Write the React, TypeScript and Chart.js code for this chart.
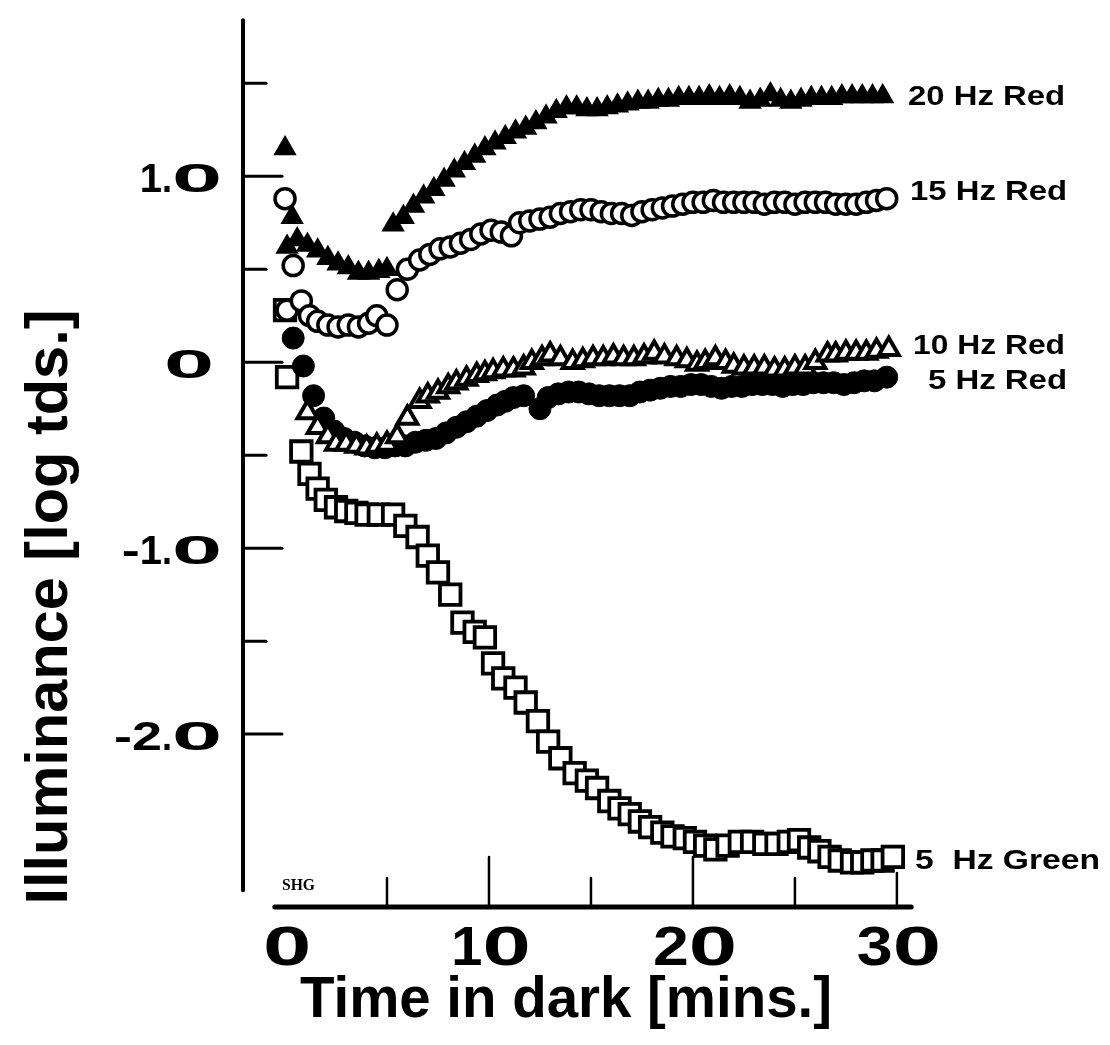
import React, { useEffect, useRef } from "react";
import { Chart, registerables } from "chart.js";

Chart.register(...registerables);

// ---------- data (time in dark [min], illuminance [log tds]) ----------
const hz20RedTime = [0.0, 0.35, 0.1, 0.6, 1.1, 1.6, 2.1, 2.6, 3.1, 3.6, 4.1, 4.6, 5.0, 5.3, 5.8, 6.3, 6.8, 7.3, 7.8, 8.3, 8.8, 9.3, 9.8, 10.3, 10.8, 11.3, 11.8, 12.3, 12.8, 13.3, 13.8, 14.3, 14.8, 15.3, 15.8, 16.3, 16.8, 17.3, 17.8, 18.3, 18.8, 19.3, 19.8, 20.3, 20.8, 21.3, 21.8, 22.3, 22.8, 23.3, 23.8, 24.3, 24.8, 25.3, 25.8, 26.3, 26.8, 27.3, 27.8, 28.3, 28.8, 29.3];
const hz20RedValue = [1.15, 0.78, 0.62, 0.66, 0.63, 0.6, 0.56, 0.53, 0.51, 0.48, 0.48, 0.49, 0.5, 0.74, 0.78, 0.84, 0.89, 0.93, 0.98, 1.03, 1.07, 1.11, 1.15, 1.18, 1.21, 1.24, 1.26, 1.29, 1.32, 1.35, 1.37, 1.37, 1.36, 1.36, 1.37, 1.38, 1.39, 1.4, 1.4, 1.41, 1.41, 1.42, 1.42, 1.42, 1.43, 1.42, 1.43, 1.42, 1.4, 1.41, 1.44, 1.41, 1.4, 1.41, 1.42, 1.42, 1.42, 1.43, 1.43, 1.43, 1.43, 1.43];

const hz15RedTime = [0.0, 0.4, 0.1, 0.8, 1.2, 1.6, 2.1, 2.6, 3.1, 3.6, 4.1, 4.5, 5.0, 5.5, 6.0, 6.6, 7.1, 7.6, 8.1, 8.6, 9.1, 9.6, 10.1, 10.6, 11.1, 11.5, 12.0, 12.5, 13.0, 13.5, 14.0, 14.5, 15.0, 15.5, 16.0, 16.5, 17.0, 17.5, 18.0, 18.5, 19.0, 19.5, 20.0, 20.5, 21.0, 21.5, 22.0, 22.5, 23.0, 23.5, 24.0, 24.5, 25.0, 25.5, 26.0, 26.5, 27.0, 27.5, 28.0, 28.5, 29.0, 29.5];
const hz15RedValue = [0.88, 0.52, 0.28, 0.33, 0.25, 0.22, 0.2, 0.19, 0.2, 0.19, 0.21, 0.25, 0.2, 0.39, 0.5, 0.55, 0.58, 0.61, 0.62, 0.64, 0.66, 0.69, 0.71, 0.7, 0.68, 0.75, 0.76, 0.77, 0.78, 0.8, 0.81, 0.82, 0.82, 0.81, 0.8, 0.8, 0.79, 0.81, 0.82, 0.83, 0.84, 0.85, 0.86, 0.86, 0.87, 0.86, 0.86, 0.86, 0.86, 0.85, 0.86, 0.86, 0.85, 0.86, 0.86, 0.86, 0.85, 0.85, 0.85, 0.86, 0.87, 0.88];

const hz10RedTime = [1.1, 1.6, 2.1, 2.5, 3.0, 3.5, 4.0, 4.5, 5.0, 5.5, 6.0, 6.6, 7.0, 7.5, 8.0, 8.4, 8.9, 9.4, 9.8, 10.2, 10.7, 11.2, 11.7, 12.1, 12.6, 13.0, 13.5, 14.1, 14.6, 15.1, 15.6, 16.1, 16.6, 17.1, 17.6, 18.1, 18.6, 19.2, 19.7, 20.2, 20.6, 21.1, 21.6, 22.0, 22.5, 23.0, 23.5, 24.0, 24.5, 25.0, 25.5, 26.0, 26.6, 27.0, 27.5, 28.0, 28.5, 29.0, 29.6];
const hz10RedValue = [-0.27, -0.35, -0.4, -0.44, -0.44, -0.45, -0.46, -0.45, -0.44, -0.4, -0.3, -0.21, -0.18, -0.16, -0.13, -0.11, -0.09, -0.07, -0.06, -0.05, -0.04, -0.04, -0.03, 0.0, 0.02, 0.04, 0.02, 0.0, 0.01, 0.02, 0.02, 0.03, 0.02, 0.02, 0.03, 0.05, 0.03, 0.02, 0.01, -0.01, 0.0, 0.02, 0.0, -0.02, -0.03, -0.03, -0.03, -0.04, -0.04, -0.03, -0.03, 0.0, 0.04, 0.04, 0.05, 0.05, 0.05, 0.06, 0.07];

const hz5RedTime = [0.4, 0.9, 1.4, 1.9, 2.4, 2.9, 3.4, 3.9, 4.4, 4.9, 5.4, 5.9, 6.4, 6.9, 7.4, 7.9, 8.4, 8.9, 9.4, 9.9, 10.4, 10.8, 11.2, 11.7, 12.5, 12.9, 13.4, 13.9, 14.4, 14.9, 15.4, 15.9, 16.4, 16.9, 17.4, 17.9, 18.4, 18.9, 19.4, 19.9, 20.4, 20.9, 21.4, 21.9, 22.4, 22.9, 23.4, 23.9, 24.4, 24.9, 25.4, 25.9, 26.4, 26.9, 27.4, 27.9, 28.4, 28.9, 29.5];
const hz5RedValue = [0.13, -0.02, -0.18, -0.3, -0.37, -0.41, -0.43, -0.45, -0.46, -0.46, -0.45, -0.45, -0.43, -0.42, -0.41, -0.38, -0.35, -0.32, -0.29, -0.26, -0.23, -0.21, -0.19, -0.18, -0.25, -0.19, -0.17, -0.16, -0.16, -0.17, -0.18, -0.18, -0.18, -0.18, -0.16, -0.15, -0.14, -0.13, -0.13, -0.12, -0.12, -0.13, -0.14, -0.13, -0.13, -0.12, -0.12, -0.12, -0.13, -0.12, -0.12, -0.11, -0.11, -0.11, -0.12, -0.11, -0.1, -0.1, -0.08];

const hz5GreenTime = [0.0, 0.1, 0.8, 1.2, 1.6, 2.0, 2.5, 3.0, 3.5, 4.0, 4.6, 5.3, 5.9, 6.5, 7.0, 7.5, 8.1, 8.7, 9.3, 9.8, 10.2, 10.7, 11.3, 11.8, 12.4, 12.9, 13.5, 14.2, 14.8, 15.3, 15.9, 16.4, 16.9, 17.4, 17.9, 18.5, 19.0, 19.6, 20.1, 20.6, 21.1, 21.7, 22.3, 22.9, 23.5, 24.1, 24.7, 25.2, 25.7, 26.2, 26.7, 27.2, 27.8, 28.3, 28.8, 29.3, 29.8];
const hz5GreenValue = [0.28, -0.08, -0.48, -0.6, -0.68, -0.74, -0.78, -0.8, -0.81, -0.82, -0.82, -0.82, -0.88, -0.94, -1.04, -1.13, -1.25, -1.4, -1.45, -1.48, -1.62, -1.7, -1.75, -1.83, -1.93, -2.04, -2.13, -2.21, -2.25, -2.29, -2.36, -2.4, -2.43, -2.47, -2.5, -2.53, -2.55, -2.56, -2.58, -2.6, -2.62, -2.6, -2.58, -2.58, -2.59, -2.59, -2.58, -2.57, -2.61, -2.63, -2.66, -2.68, -2.69, -2.69, -2.68, -2.68, -2.66];

const seriesLabels = ["20 Hz Red", "15 Hz Red", "10 Hz Red", "5 Hz Red", "5  Hz Green"];

// axis ticks and labels
const yTickValues = [-2, -1.5, -1, -0.5, 0, 0.5, 1, 1.5];
const yLabelValues = [1, 0, -1, -2];
const yLabelTexts = ["1.0", "0", "-1.0", "-2.0"];
const xTickValues = [5, 10, 15, 20, 25, 30];
const xLabelValues = [0, 10, 20, 30];
const xLabelTexts = ["0", "10", "20", "30"];
const xTitle = "Time in dark [mins.]";
const yTitle = "Illuminance [log tds.]";
const cornerNote = "SHG";

// scale ranges
const X_MIN = -2.06;
const X_MAX = 30.74;
const Y_MIN = -2.93;
const Y_MAX = 1.85;
const X_AXIS_FROM = -0.5;
const X_AXIS_TO = 30.7;
const Y_AXIS_FROM = -2.84;
const Y_AXIS_TO = 1.84;

const pts = (t: number[], v: number[]) => t.map((x, i) => ({ x, y: v[i] }));

type Align = "left" | "right" | "center";

function drawStretched(
  ctx: CanvasRenderingContext2D,
  text: string,
  x: number,
  y: number,
  font: string,
  scales: Record<string, number>,
  defScale: number,
  align: Align
) {
  ctx.save();
  ctx.font = font;
  ctx.textAlign = "left";
  ctx.textBaseline = "alphabetic";
  const parts = Array.from(text).map((ch) => {
    const s = scales[ch] ?? defScale;
    return { ch, s, w: ctx.measureText(ch).width * s };
  });
  const total = parts.reduce((a, p) => a + p.w, 0);
  let cx = align === "right" ? x - total : align === "center" ? x - total / 2 : x;
  for (const p of parts) {
    ctx.save();
    ctx.translate(cx, y);
    ctx.scale(p.s, 1);
    ctx.fillText(p.ch, 0, 0);
    ctx.restore();
    cx += p.w;
  }
  ctx.restore();
}

function drawFitted(
  ctx: CanvasRenderingContext2D,
  text: string,
  x: number,
  y: number,
  font: string,
  targetW: number,
  align: Align
) {
  ctx.save();
  ctx.font = font;
  const w = ctx.measureText(text).width;
  const s = targetW / w;
  const x0 = align === "left" ? x : align === "right" ? x - targetW : x - targetW / 2;
  ctx.translate(x0, y);
  ctx.scale(s, 1);
  ctx.textAlign = "left";
  ctx.textBaseline = "alphabetic";
  ctx.fillText(text, 0, 0);
  ctx.restore();
}

const SANS = "'Liberation Sans', Arial, sans-serif";

const axesPlugin = {
  id: "handAxes",
  beforeDatasetsDraw(chart: any) {
    const ctx: CanvasRenderingContext2D = chart.ctx;
    const xs = chart.scales.x;
    const ys = chart.scales.y;
    const axX = xs.left;
    const axY = ys.bottom;
    ctx.save();
    ctx.strokeStyle = "#000";
    ctx.lineCap = "round";
    ctx.lineWidth = 4;
    ctx.beginPath();
    ctx.moveTo(axX, ys.getPixelForValue(Y_AXIS_TO));
    ctx.lineTo(axX, ys.getPixelForValue(Y_AXIS_FROM));
    ctx.stroke();
    ctx.lineWidth = 3;
    for (const v of yTickValues) {
      const py = ys.getPixelForValue(v);
      const len = Number.isInteger(v) ? 39 : 23;
      ctx.beginPath();
      ctx.moveTo(axX, py);
      ctx.lineTo(axX + len, py);
      ctx.stroke();
    }
    ctx.lineWidth = 5;
    ctx.beginPath();
    ctx.moveTo(xs.getPixelForValue(X_AXIS_FROM), axY);
    ctx.lineTo(xs.getPixelForValue(X_AXIS_TO), axY);
    ctx.stroke();
    ctx.lineWidth = 2.5;
    const lastTick = xTickValues[xTickValues.length - 1];
    for (const t of xTickValues) {
      const px = xs.getPixelForValue(t);
      const len = t % 10 === 0 && t !== lastTick ? 50 : t === lastTick ? 34 : 29;
      ctx.beginPath();
      ctx.moveTo(px, axY);
      ctx.lineTo(px, axY - len);
      ctx.stroke();
    }
    ctx.restore();
  },
  afterDraw(chart: any) {
    const ctx: CanvasRenderingContext2D = chart.ctx;
    const xs = chart.scales.x;
    const ys = chart.scales.y;
    ctx.save();
    ctx.fillStyle = "#000";
    const yScaleMap = { "0": 2.25, "-": 1.35, "2": 1.35, ".": 0.9, "1": 1.0 };
    yLabelValues.forEach((v, i) => {
      const py = ys.getPixelForValue(v);
      const right = v === 0 ? 214 : 222;
      drawStretched(ctx, yLabelTexts[i], right, py + 16, `bold 40px ${SANS}`, yScaleMap, 1, "right");
    });
    const xScaleMap = { "0": 1.55, "1": 1.0, "2": 1.15, "3": 1.15 };
    xLabelValues.forEach((t, i) => {
      const px = xs.getPixelForValue(t) + 2;
      drawStretched(ctx, xLabelTexts[i], px, 965, `bold 56px ${SANS}`, xScaleMap, 1, "center");
    });
    drawFitted(ctx, xTitle, 566, 1017, `bold 57px ${SANS}`, 532, "center");
    ctx.save();
    ctx.translate(67, 607);
    ctx.rotate(-Math.PI / 2);
    drawFitted(ctx, yTitle, 0, 0, `bold 60px ${SANS}`, 595, "center");
    ctx.restore();
    const lblFont = `bold 28px ${SANS}`;
    drawFitted(ctx, seriesLabels[0], 908, 105, lblFont, 157, "left");
    drawFitted(ctx, seriesLabels[1], 910, 200, lblFont, 157, "left");
    drawFitted(ctx, seriesLabels[2], 913, 354, lblFont, 152, "left");
    drawFitted(ctx, seriesLabels[3], 928, 389, lblFont, 139, "left");
    drawFitted(ctx, seriesLabels[4], 915, 869, lblFont, 185, "left");
    drawFitted(ctx, cornerNote, 282, 890, "bold 16px 'Liberation Serif', serif", 33, "left");
    ctx.restore();
  },
};

export default function App() {
  const ref = useRef<HTMLCanvasElement>(null);
  useEffect(() => {
    document.body.style.margin = "0";
    const canvas = ref.current;
    if (!canvas) return;
    const base = { showLine: false, clip: false as any, pointBorderColor: "#000" };
    const chart = new Chart(canvas, {
      type: "scatter",
      data: {
        datasets: [
          {
            ...base,
            label: seriesLabels[1],
            data: pts(hz15RedTime, hz15RedValue),
            pointStyle: "circle",
            pointRadius: 10,
            pointBorderWidth: 3.5,
            pointBackgroundColor: "#fff",
          },
          {
            ...base,
            label: seriesLabels[0],
            data: pts(hz20RedTime, hz20RedValue),
            pointStyle: "triangle",
            pointRadius: 12,
            pointBorderWidth: 1.5,
            pointBackgroundColor: "#000",
          },
          {
            ...base,
            label: seriesLabels[2],
            data: pts(hz10RedTime, hz10RedValue),
            pointStyle: "triangle",
            pointRadius: 11.5,
            pointBorderWidth: 4,
            pointBackgroundColor: "#fff",
          },
          {
            ...base,
            label: seriesLabels[3],
            data: pts(hz5RedTime, hz5RedValue),
            pointStyle: "circle",
            pointRadius: 11,
            pointBorderWidth: 1,
            pointBackgroundColor: "#000",
          },
          {
            ...base,
            label: seriesLabels[4],
            data: pts(hz5GreenTime, hz5GreenValue),
            pointStyle: "rect",
            pointRadius: 14.5,
            pointBorderWidth: 3.8,
            pointBackgroundColor: "#fff",
          },
        ] as any,
      },
      options: {
        animation: false,
        responsive: false,
        devicePixelRatio: 1,
        events: [],
        layout: { padding: { left: 243, right: 198, top: 10, bottom: 138 } },
        plugins: {
          legend: { display: false },
          tooltip: { enabled: false },
        },
        scales: {
          x: { type: "linear", min: X_MIN, max: X_MAX, display: false },
          y: { type: "linear", min: Y_MIN, max: Y_MAX, display: false },
        },
      },
      plugins: [axesPlugin],
    });
    return () => chart.destroy();
  }, []);
  return (
    <div style={{ position: "absolute", left: 0, top: 0, width: 1110, height: 1045, background: "#fff" }}>
      <canvas ref={ref} width={1110} height={1045} style={{ display: "block" }} />
    </div>
  );
}
